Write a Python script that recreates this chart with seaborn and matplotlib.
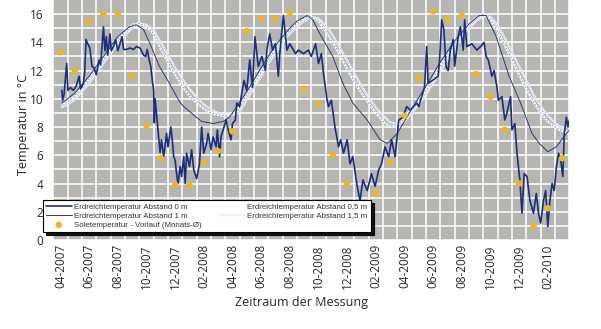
import matplotlib
matplotlib.use("Agg")
import matplotlib.pyplot as plt
import seaborn as sns
import numpy as np

# ---------------- data (months since 04-2007 on x) ----------------
tick_labels = ["04-2007", "06-2007", "08-2007", "10-2007", "12-2007", "02-2008",
               "04-2008", "06-2008", "08-2008", "10-2008", "12-2008", "02-2009",
               "04-2009", "06-2009", "08-2009", "10-2009", "12-2009", "02-2010"]

sole_months = ["2007-04", "2007-05", "2007-06", "2007-07", "2007-08", "2007-09",
               "2007-10", "2007-11", "2007-12", "2008-01", "2008-02", "2008-03",
               "2008-04", "2008-05", "2008-06", "2008-07", "2008-08", "2008-09",
               "2008-10", "2008-11", "2008-12", "2009-01", "2009-02", "2009-03",
               "2009-04", "2009-05", "2009-06", "2009-07", "2009-08", "2009-09",
               "2009-10", "2009-11", "2009-12", "2010-01", "2010-02", "2010-03"]
sole_temp = [13.3, 12.0, 15.5, 16.0, 16.0, 11.6, 8.1, 5.8, 3.9,
             3.9, 5.5, 6.3, 7.7, 14.8, 15.7, 15.65, 16.1, 10.7, 9.6, 6.0, 4.0,
             2.5, 3.3, 5.5, 8.8, 11.5, 16.2, 15.6, 15.9, 11.75, 10.15, 7.8, 4.0,
             1.0, 2.25, 5.8]

# Abstand 0 m (noisy)
t_0m = [0.6, 0.65, 0.75, 0.93, 1.02, 1.2, 1.4, 1.6, 1.8, 1.9, 2.1, 2.2, 2.28, 2.4,
        2.55, 2.7, 2.85, 3.0, 3.2, 3.3, 3.5, 3.6, 3.7, 3.8, 3.95, 4.05, 4.2, 4.35,
        4.5, 4.65, 4.8, 4.9, 5.1, 5.35, 5.6, 5.8, 6.05, 6.3, 6.45, 6.55, 6.7, 6.8,
        6.92, 7.0, 7.05, 7.1, 7.18, 7.3, 7.45, 7.55, 7.7, 7.9, 8.0, 8.2, 8.3, 8.4,
        8.5, 8.6, 8.7, 8.85, 8.95, 9.1, 9.2, 9.3, 9.5, 9.65, 9.8, 10.0, 10.2, 10.35,
        10.5, 10.7, 10.8, 11.0, 11.15, 11.35, 11.45, 11.6, 11.7, 11.85, 12.05, 12.2,
        12.4, 12.5, 12.7, 12.8, 13.0, 13.15, 13.3, 13.5, 13.7, 13.9, 14.07, 14.3,
        14.55, 14.8, 14.9, 15.1, 15.3, 15.5, 15.7, 15.8, 16.05, 16.3, 16.5, 16.9,
        17.1, 17.45, 17.8, 18.0, 18.3, 18.5, 18.7, 18.85, 19.1, 19.2, 19.4, 19.65,
        19.9, 20.05, 20.25, 20.5, 20.7, 20.9, 21.2, 21.4, 21.6, 21.9, 22.2, 22.45,
        22.7, 22.9, 23.15, 23.4, 23.6, 23.85, 24.1, 24.4, 24.65, 24.9, 25.35, 25.5,
        25.9, 26.05, 26.15, 26.45, 26.85, 26.95, 27.1, 27.25, 27.4, 27.55, 27.7,
        27.9, 28.0, 28.25, 28.4, 28.6, 28.7, 28.85, 29.2, 29.55, 29.9, 30.05, 30.2,
        30.35, 30.6, 30.75, 30.95, 31.05, 31.3, 31.5, 31.65, 31.9, 32.0, 32.2,
        32.35, 32.55, 32.7, 32.85, 33.05, 33.25, 33.5, 33.7, 33.85, 34.0, 34.2,
        34.35, 34.5, 34.65, 34.8, 34.95, 35.1, 35.25, 35.4, 35.55, 35.65, 35.8,
        35.9, 36.0]
T_0m = [10.6, 9.9, 10.3, 12.5, 10.6, 10.8, 10.6, 10.9, 11.6, 10.7, 11.1, 12.0, 14.2, 13.9,
        13.6, 12.3, 12.2, 11.7, 12.75, 12.4, 15.1, 13.4, 14.4, 13.1, 14.6, 13.4, 13.7, 14.2,
        13.4, 13.9, 14.4, 13.5, 13.5, 13.6, 13.5, 13.7, 13.6, 13.1, 13.0, 13.5, 12.7, 12.3,
        11.2, 10.6, 8.3, 10.0, 9.2, 7.8, 6.2, 7.1, 5.9, 7.55, 6.6, 8.0, 7.1, 5.9,
        5.65, 4.7, 4.0, 5.2, 4.5, 5.9, 4.0, 6.15, 5.2, 6.4, 4.95, 4.35, 5.4, 8.0,
        6.15, 6.85, 7.55, 6.4, 7.3, 6.6, 7.8, 5.9, 7.3, 7.8, 8.5, 7.8,
        7.1, 8.25, 8.5, 9.7, 9.45, 10.4, 11.3, 10.6, 12.75, 10.8, 14.4, 12.3,
        13.0, 12.0, 13.45, 14.6, 13.45, 13.9, 11.6, 13.2, 15.9, 13.45, 13.9, 13.2,
        13.45, 13.2, 13.45, 13.0, 13.9, 12.5, 13.2, 11.8, 9.9, 9.45, 9.9, 8.0,
        6.6, 7.1, 6.15, 7.1, 5.4, 5.9, 3.8, 2.8, 4.25, 3.5, 4.7, 3.8,
        4.95, 5.4, 6.6, 5.9, 7.1, 5.9, 8.5, 8.7, 9.45, 9.2, 9.7, 9.45,
        10.85, 13.7, 11.1, 11.3, 11.6, 12.75, 15.6, 14.9, 12.3, 12.0, 13.45,
        14.2, 12.3, 14.4, 15.1, 13.45, 15.6, 13.7, 13.9, 13.45, 13.8, 14.0, 13.0,
        12.75, 11.6, 12.0, 10.85, 9.9, 10.15, 8.5, 9.0, 10.15, 7.8, 8.25,
        6.15, 4.25, 1.9, 4.7, 4.5, 2.8, 1.9, 3.3, 1.9, 1.2, 2.8,
        3.5, 0.95, 2.8, 4.0, 3.5, 5.2, 6.15, 5.65, 4.5, 7.55, 8.7,
        8.0, 8.5]

# Abstand 0,5 m / 1,5 m (smooth, light)
t_smooth = [0.6, 1.0, 1.5, 2.0, 2.5, 3.0, 3.5, 4.0, 4.5, 5.0, 5.5, 6.0, 6.5, 7.0, 7.5,
            8.0, 8.5, 9.0, 9.5, 10.0, 10.5, 11.0, 11.5, 12.0, 12.5, 13.0, 13.5, 14.0,
            14.5, 15.0, 15.5, 16.0, 16.5, 17.0, 17.5, 18.0, 18.5, 19.0, 19.5, 20.0,
            20.5, 21.0, 21.5, 22.0, 22.5, 23.0, 23.5, 24.0, 24.5, 25.0, 25.5, 26.0,
            26.5, 27.0, 27.5, 28.0, 28.5, 29.0, 29.5, 30.0, 30.5, 31.0, 31.5, 32.0,
            32.5, 33.0, 33.5, 34.0, 34.5, 35.0, 35.5, 36.0]
T_05m = [9.6, 9.8, 10.2, 10.8, 11.4, 12.1, 12.8, 13.5, 14.2, 14.8, 15.25, 15.35, 15.1, 14.6, 13.5,
         12.6, 11.7, 10.9, 10.2, 9.7, 9.3, 9.0, 8.85, 8.8, 8.9, 9.4, 10.3, 11.1,
         11.9, 12.8, 13.5, 14.3, 14.9, 15.35, 15.7, 15.85, 15.5, 14.8, 14.0, 13.1,
         12.1, 11.2, 10.4, 9.7, 9.0, 8.4, 8.05, 8.1, 8.6, 9.3, 9.9, 10.6,
         11.4, 12.3, 13.1, 13.9, 14.7, 15.3, 15.75, 16.0, 15.6, 14.8, 13.8, 12.8,
         11.7, 10.7, 9.8, 9.0, 8.4, 8.0, 7.7, 7.5]
T_15m = [9.4, 9.6, 9.95, 10.5, 11.1, 11.8, 12.5, 13.2, 13.9, 14.5, 15.0, 15.3, 15.25, 14.9, 14.0,
         13.1, 12.2, 11.4, 10.7, 10.1, 9.6, 9.25, 9.0, 8.9, 8.85, 9.1, 9.9, 10.8,
         11.6, 12.5, 13.2, 14.0, 14.6, 15.1, 15.5, 15.8, 15.7, 15.2, 14.5, 13.6,
         12.7, 11.8, 10.9, 10.1, 9.4, 8.8, 8.35, 8.2, 8.4, 9.0, 9.6, 10.3,
         11.1, 11.9, 12.8, 13.6, 14.4, 15.0, 15.5, 15.85, 15.8, 15.2, 14.3, 13.3,
         12.3, 11.3, 10.3, 9.5, 8.8, 8.3, 7.9, 7.6]

# Abstand 1 m (thin dark)
t_1m = [0.6, 1.5, 2.5, 3.5, 4.5, 5.3, 5.8, 6.3, 6.75, 7.4, 8.1, 8.8, 9.1, 9.8, 10.35,
        11.15, 11.85, 12.3, 12.8, 13.5, 14.5, 15.5, 16.5, 17.0, 17.7, 18.1, 18.6,
        19.5, 20.2, 20.9, 21.9, 22.8, 23.3, 24.0, 25.1, 26.0, 27.0, 28.0, 29.0,
        29.7, 30.2, 30.9, 31.8, 32.6, 33.4, 33.9, 34.5, 35.1, 35.8, 36.0]
T_1m = [9.7, 10.4, 11.6, 13.0, 14.4, 15.1, 15.25, 14.9, 13.9, 12.3, 11.1, 9.8, 9.45, 8.85, 8.4,
        8.25, 8.4, 8.7, 9.45, 10.5, 12.2, 13.8, 15.0, 15.5, 15.9, 15.6, 14.6,
        13.0, 11.1, 9.7, 8.5, 7.1, 6.85, 7.55, 9.45, 10.9, 12.6, 14.1, 15.3,
        15.9, 15.9, 14.4, 11.6, 9.7, 7.55, 6.85, 6.25, 6.6, 7.55, 7.8]

# ---------------- style ----------------
sns.set_style("whitegrid", {"axes.facecolor": "#b5b5b2", "grid.color": "white",
                            "axes.edgecolor": "#b5b5b2"})
plt.rcParams["font.family"] = ["Open Sans", "DejaVu Sans"]

fig = plt.figure(figsize=(6.01, 3.29), dpi=100)
ax = fig.add_axes([53.3 / 601, 1 - 240 / 329, 516 / 601, 240 / 329])

sns.lineplot(x=t_smooth, y=T_15m, ax=ax, color="#eef1f8", lw=1.5, label="Erdreichtemperatur Abstand 1,5 m")
sns.lineplot(x=t_smooth, y=T_15m, ax=ax, color="#9fb0d6", lw=0.6, linestyle=(0, (1, 2)))
sns.lineplot(x=t_smooth, y=T_05m, ax=ax, color="white", lw=1.5, label="Erdreichtemperatur Abstand 0,5 m")
sns.lineplot(x=t_smooth, y=T_05m, ax=ax, color="#7088c0", lw=0.6, linestyle=(0, (2, 2)))
sns.lineplot(x=t_1m, y=T_1m, ax=ax, color="#2e3d6e", lw=0.7, label="Erdreichtemperatur Abstand 1 m")
sns.lineplot(x=t_0m, y=T_0m, ax=ax, color="#1c2f7c", lw=1.2, label="Erdreichtemperatur Abstand 0 m")

sole_x = [sole_months.index(m) + 0.5 for m in sole_months]
sns.scatterplot(x=sole_x, y=sole_temp, ax=ax, color="#f2b522", s=22, edgecolor="none",
                label="Soletemperatur - Vorlauf (Monats-Ø)", zorder=5)

ax.set_xlim(0, 36)
ax.set_ylim(0, 17)
ax.set_xticks(np.arange(0, 37), minor=True)
ax.set_xticks(np.arange(len(tick_labels)) * 2 + 0.5)
ax.set_xticklabels(tick_labels, rotation=90, fontsize=8.5)
ax.set_yticks(np.arange(0, 17, 2))
ax.set_yticks(np.arange(1, 17, 2), minor=True)
ax.tick_params(axis="y", labelsize=8.5, length=0, pad=7, which="both")
ax.tick_params(axis="x", length=0, pad=3, which="both")
ax.grid(False, which="major", axis="x")
ax.grid(True, which="minor", axis="x", color="white", lw=1.1)
ax.grid(True, which="both", axis="y", color="white", lw=1.1)
for s in ax.spines.values():
    s.set_visible(False)

ax.set_ylabel("Temperatur in °C", fontsize=9)
ax.yaxis.set_label_coords(-0.045, 0.48)
ax.set_xlabel("Zeitraum der Messung", fontsize=9)
ax.xaxis.set_label_coords(0.481, -0.235)

handles, labels = ax.get_legend_handles_labels()
hmap = dict(zip(labels, handles))
order = ["Erdreichtemperatur Abstand 0 m", "Erdreichtemperatur Abstand 1 m",
         "Soletemperatur - Vorlauf (Monats-Ø)",
         "Erdreichtemperatur Abstand 0,5 m", "Erdreichtemperatur Abstand 1,5 m"]
leg = ax.legend([hmap[k] for k in order], order, ncol=2, loc="upper left",
                bbox_to_anchor=(43 / 601, 1 - 200 / 329), bbox_transform=fig.transFigure,
                borderaxespad=0, frameon=True, fancybox=False, framealpha=1,
                prop={"family": ["Liberation Sans", "DejaVu Sans"], "size": 5.7},
                handlelength=3.2, handletextpad=0.3, labelspacing=0.2, columnspacing=2.3,
                borderpad=0.4, shadow={"color": "black", "alpha": 0.9})
leg.get_frame().set_edgecolor("black")
leg.get_frame().set_linewidth(0.8)
leg.get_frame().set_facecolor("white")
for t in leg.get_texts():
    t.set_color("#333333")

fig.savefig("out.png", dpi=100)
